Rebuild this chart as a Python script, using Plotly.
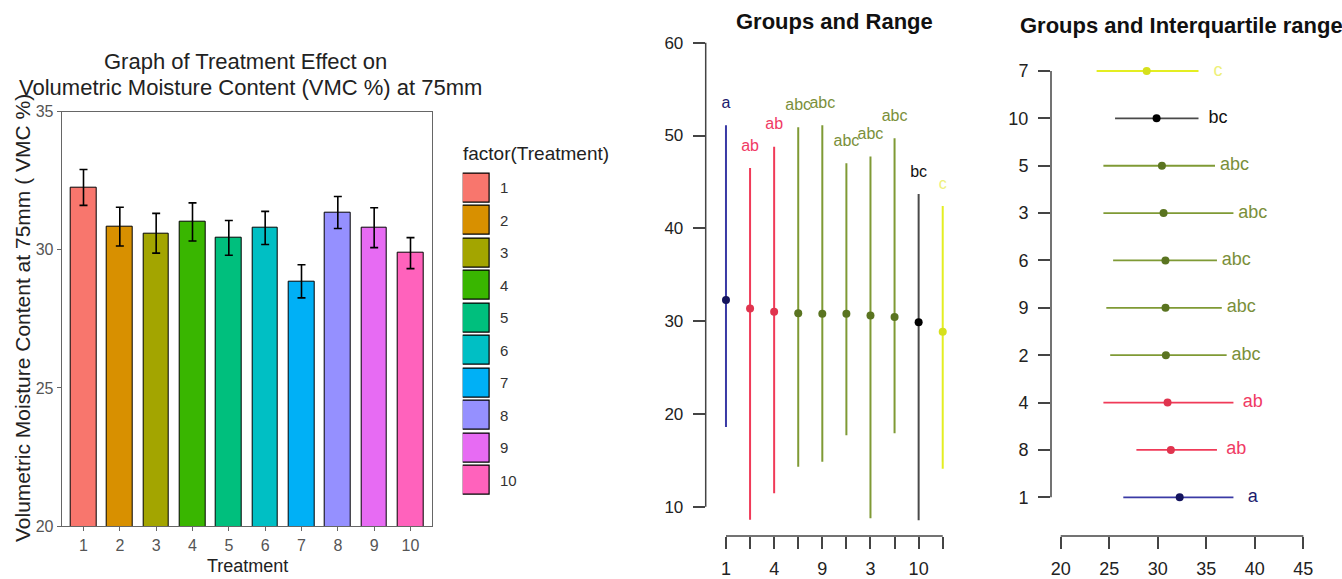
import plotly.graph_objects as go

W, H = 1342, 579

# ---- data -------------------------------------------------------------
treatments = [1, 2, 3, 4, 5, 6, 7, 8, 9, 10]
vmc_mean = [32.26, 30.84, 30.60, 31.01, 30.43, 30.79, 28.86, 31.35, 30.80, 29.88]
vmc_se = [0.65, 0.70, 0.72, 0.69, 0.63, 0.60, 0.60, 0.58, 0.72, 0.56]
vmc_min = [18.6, 14.3, 8.75, 11.45, 17.9, 17.7, 14.1, 8.6, 14.85, 8.55]
vmc_max = [51.1, 50.9, 47.75, 48.8, 49.7, 47.0, 42.4, 46.5, 51.1, 43.7]
vmc_q1 = [26.45, 25.1, 24.4, 24.4, 24.4, 25.4, 23.7, 27.8, 24.7, 25.6]
vmc_q3 = [37.8, 37.1, 37.8, 37.8, 35.9, 36.1, 34.2, 36.1, 36.6, 34.2]
groups = ["a", "abc", "abc", "ab", "abc", "abc", "c", "ab", "abc", "bc"]
legend_key = [1] * 10

bar_y_ticks = [20, 25, 30, 35]
range_y_ticks = [10, 20, 30, 40, 50, 60]
iqr_x_ticks = [20, 25, 30, 35, 40, 45]

# ---- styles -----------------------------------------------------------
bar_colors = ["#F8766D", "#D89000", "#A3A500", "#39B600", "#00BF7D",
              "#00BFC4", "#00B0F6", "#9590FF", "#E76BF3", "#FF62BC"]
group_style = {
    "a":   dict(line="#3a3aa5", point="#14145e", text="#1c1c6e"),
    "ab":  dict(line="#f03a58", point="#e0344e", text="#f03a64"),
    "abc": dict(line="#7f9a35", point="#5a7420", text="#7a8f3a"),
    "bc":  dict(line="#4a4a4a", point="#000000", text="#111111"),
    "c":   dict(line="#e4ee22", point="#d6e01c", text="#eef07a"),
}
FONT = "Liberation Sans, Arial, sans-serif"
AXIS_GREY = "#444444"


def px_x(p):
    return p / W


def px_y(p):
    return 1 - p / H


fig = go.Figure()

# ---- bar chart with standard errors ---------------------------------
fig.add_trace(go.Bar(
    x=treatments, y=vmc_mean, width=0.7,
    marker=dict(color=bar_colors, line=dict(color="black", width=1)),
    error_y=dict(type="data", array=vmc_se, color="black", thickness=1.6, width=4),
    xaxis="x", yaxis="y", showlegend=False, hoverinfo="skip",
))

# legend keys drawn as a small horizontal bar strip
fig.add_trace(go.Bar(
    x=legend_key, y=treatments, orientation="h", width=0.9,
    marker=dict(color=bar_colors, line=dict(color="black", width=1.2)),
    xaxis="x4", yaxis="y4", showlegend=False, hoverinfo="skip",
))

# ---- groups ordered by mean -------------------------------------------
order = sorted(range(len(treatments)), key=lambda i: -vmc_mean[i])
order_labels = [str(treatments[i]) for i in order]
positions = list(range(1, len(order) + 1))

for pos, i in zip(positions, order):
    st = group_style[groups[i]]
    # full range, vertical
    fig.add_trace(go.Scatter(
        x=[pos, pos], y=[vmc_min[i], vmc_max[i]], mode="lines",
        line=dict(color=st["line"], width=2),
        xaxis="x2", yaxis="y2", showlegend=False, hoverinfo="skip",
    ))
    fig.add_trace(go.Scatter(
        x=[pos], y=[vmc_mean[i]], mode="markers",
        marker=dict(color=st["point"], size=8),
        xaxis="x2", yaxis="y2", showlegend=False, hoverinfo="skip",
    ))
    fig.add_trace(go.Scatter(
        x=[pos], y=[vmc_max[i] + 2.3], mode="text", text=[groups[i]],
        textfont=dict(color=st["text"], size=16, family=FONT),
        xaxis="x2", yaxis="y2", showlegend=False, hoverinfo="skip", cliponaxis=False,
    ))
    # interquartile range, horizontal
    fig.add_trace(go.Scatter(
        x=[vmc_q1[i], vmc_q3[i]], y=[pos, pos], mode="lines",
        line=dict(color=st["line"], width=1.8),
        xaxis="x3", yaxis="y3", showlegend=False, hoverinfo="skip",
    ))
    fig.add_trace(go.Scatter(
        x=[vmc_mean[i]], y=[pos], mode="markers",
        marker=dict(color=st["point"], size=8),
        xaxis="x3", yaxis="y3", showlegend=False, hoverinfo="skip",
    ))
    fig.add_trace(go.Scatter(
        x=[vmc_q3[i] + 2.0], y=[pos], mode="text", text=[groups[i]],
        textfont=dict(color=st["text"], size=18, family=FONT),
        xaxis="x3", yaxis="y3", showlegend=False, hoverinfo="skip", cliponaxis=False,
    ))

# ---- axes -------------------------------------------------------------
tick_font_grey = dict(family=FONT, size=16, color="#555555")
tick_font_dark = dict(family=FONT, size=17, color="#222222")
fixed = dict(automargin=False, showgrid=False, zeroline=False)

fig.update_layout(
    width=W, height=H, autosize=False,
    margin=dict(l=0, r=0, t=0, b=0, pad=0),
    paper_bgcolor="white", plot_bgcolor="white",
    font=dict(family=FONT),
    bargap=0,
    xaxis=dict(
        domain=[px_x(61.7), px_x(432.3)], range=[0.4, 10.6],
        tickvals=treatments, ticktext=[str(t) for t in treatments],
        ticks="outside", ticklen=4, tickcolor="#666", tickfont=tick_font_grey,
        ticklabelstandoff=1,
        showline=True, mirror=True, linecolor="#666", linewidth=1,
        anchor="y", **fixed,
    ),
    yaxis=dict(
        domain=[px_y(526), px_y(111.7)], range=[20, 35],
        tickvals=bar_y_ticks, ticks="outside", ticklen=4, tickcolor="#666",
        tickfont=tick_font_grey,
        showline=True, mirror=True, linecolor="#666", linewidth=1,
        anchor="x", **fixed,
    ),
    xaxis4=dict(
        domain=[px_x(462.7), px_x(490)], range=[0, 1],
        visible=False, anchor="y4", **fixed,
    ),
    yaxis4=dict(
        domain=[px_y(496.7), px_y(171.7)], range=[10.5, 0.5],
        tickvals=treatments, ticktext=[str(t) for t in treatments],
        side="right", ticks="", ticklabelstandoff=9,
        tickfont=dict(family=FONT, size=15, color="#333333"),
        showline=False, anchor="x4", **fixed,
    ),
    xaxis2=dict(
        domain=[px_x(705.7), px_x(965)], range=[0.158, 10.925],
        tickvals=positions,
        ticktext=[lab if k % 2 == 0 else "" for k, lab in enumerate(order_labels)],
        ticks="outside", ticklen=12, tickwidth=1.5, tickcolor=AXIS_GREY,
        ticklabelstandoff=4,
        tickfont=dict(family=FONT, size=18, color="#222222"),
        showline=False, anchor="y2", **fixed,
    ),
    yaxis2=dict(
        domain=[px_y(536), px_y(30)], range=[6.84, 61.37],
        tickvals=range_y_ticks, ticks="outside", ticklen=12, tickwidth=1.5,
        tickcolor=AXIS_GREY, ticklabelstandoff=6, tickfont=tick_font_dark,
        showline=False, anchor="x2", **fixed,
    ),
    xaxis3=dict(
        domain=[px_x(1051), px_x(1335)], range=[19.0, 48.265],
        tickvals=iqr_x_ticks, ticks="outside", ticklen=12, tickwidth=1.5,
        tickcolor=AXIS_GREY, ticklabelstandoff=4,
        tickfont=dict(family=FONT, size=18, color="#222222"),
        showline=False, anchor="y3", **fixed,
    ),
    yaxis3=dict(
        domain=[px_y(536), px_y(35)], range=[0.183, 10.76],
        tickvals=positions, ticktext=order_labels,
        ticks="outside", ticklen=12, tickwidth=1.5, tickcolor=AXIS_GREY,
        ticklabelstandoff=6,
        tickfont=dict(family=FONT, size=18, color="#222222"),
        showline=False, anchor="x3", **fixed,
    ),
)

# detached base-graphics style axis lines spanning the tick range only
axis_line = dict(color=AXIS_GREY, width=1.5)
fig.add_shape(type="line", xref="x2 domain", yref="y2", x0=0, x1=0,
              y0=range_y_ticks[0], y1=range_y_ticks[-1], line=axis_line)
fig.add_shape(type="line", xref="x2", yref="y2 domain", x0=positions[0], x1=positions[-1],
              y0=0, y1=0, line=axis_line)
fig.add_shape(type="line", xref="x3 domain", yref="y3", x0=0, x1=0,
              y0=positions[0], y1=positions[-1], line=axis_line)
fig.add_shape(type="line", xref="x3", yref="y3 domain", x0=iqr_x_ticks[0], x1=iqr_x_ticks[-1],
              y0=0, y1=0, line=axis_line)

# ---- titles and labels ------------------------------------------------
def note(text, x, y, size, color="#222222", bold=False, angle=0, xanchor="center"):
    fig.add_annotation(
        text=f"<b>{text}</b>" if bold else text,
        x=px_x(x), y=px_y(y), xref="paper", yref="paper",
        xanchor=xanchor, yanchor="middle", showarrow=False, textangle=angle,
        font=dict(family=FONT, size=size, color=color),
    )


note("Graph of Treatment Effect on", 245, 62, 22)
note("Volumetric Moisture Content (VMC %) at 75mm", 251, 88, 22)
note("Volumetric Moisture Content at 75mm ( VMC %)", 22, 318, 21, angle=-90)
note("Treatment", 247, 566, 18)
note("factor(Treatment)", 461, 153, 19, xanchor="left")
note("Groups and Range", 834, 22, 22, color="#111111", bold=True)
note("Groups and Interquartile range", 1018, 25, 22, color="#111111", bold=True, xanchor="left")

fig.write_html("out.html")
